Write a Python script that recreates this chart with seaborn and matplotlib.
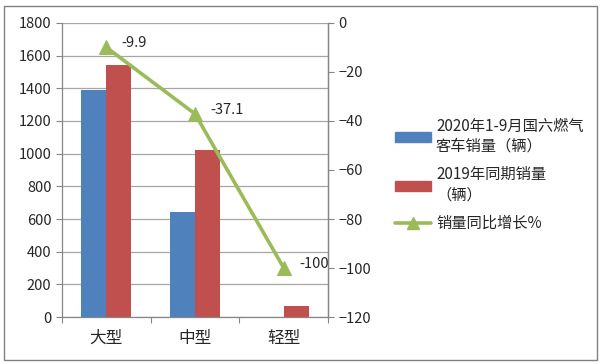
import matplotlib
matplotlib.use("Agg")
import matplotlib.pyplot as plt
from matplotlib.patches import Rectangle
from matplotlib.lines import Line2D
import seaborn as sns
import pandas as pd

categories = ["大型", "中型", "轻型"]
sales_2020 = [1390, 640, 0]
sales_2019 = [1540, 1020, 65]
growth = [-9.9, -37.1, -100]
series_names = ["2020年1-9月国六燃气\n客车销量（辆）", "2019年同期销量\n（辆）"]
line_name = "销量同比增长%"
growth_labels = ["-9.9", "-37.1", "-100"]

sns.set_theme(style="white")
plt.rcParams['font.family'] = ['Noto Sans CJK SC', 'DejaVu Sans']

df = pd.DataFrame({
    "车型": categories * 2,
    "销量": sales_2020 + sales_2019,
    "系列": [series_names[0]] * 3 + [series_names[1]] * 3,
})

fig = plt.figure(figsize=(6, 3.64), dpi=100)
ax = fig.add_axes([0.103, 0.129, 0.444, 0.808])
sns.barplot(data=df, x="车型", y="销量", hue="系列", palette=["#4F81BD", "#C0504D"],
            width=0.56, saturation=1, linewidth=0, ax=ax, legend=False)
ax.set_ylim(0, 1800)
ax.set_yticks(range(0, 1801, 200))
ax.set_xlim(-0.5, 2.5)
ax.set_xlabel("")
ax.set_ylabel("")
ax.yaxis.grid(True, color="#A6A6A6", linewidth=0.9)
ax.set_axisbelow(True)
ax.set_xticks([-0.5, 0.5, 1.5, 2.5], minor=True)
ax.tick_params(axis="x", which="major", length=0, labelsize=12, pad=9)
ax.tick_params(axis="x", which="minor", length=4, color="#868686", width=0.8, direction="out", bottom=True)
ax.tick_params(axis="y", length=4, color="#868686", width=0.8, direction="out", left=True, labelsize=10.5)
ax.spines["top"].set_visible(False)
for s in ["left", "bottom", "right"]:
    ax.spines[s].set_color("#868686")
    ax.spines[s].set_linewidth(0.9)

ax2 = ax.twinx()
sns.lineplot(x=[0, 1, 2], y=growth, color="#9BBB59", linewidth=2.6, marker="^",
             markersize=10, markeredgecolor="#9BBB59", ax=ax2)
ax2.set_ylim(-120, 0)
ax2.set_yticks(range(-120, 1, 20))
ax2.tick_params(axis="y", length=4, color="#868686", width=0.8, direction="out", right=True, labelsize=10.5)
ax2.spines["top"].set_visible(False)
ax2.spines["left"].set_visible(False)
ax2.spines["bottom"].set_visible(False)
ax2.spines["right"].set_color("#868686")
ax2.spines["right"].set_linewidth(0.9)
for i, (v, lab) in enumerate(zip(growth, growth_labels)):
    ax2.annotate(lab, (i, v), xytext=(11, 3), textcoords="offset points",
                 fontsize=10.5, va="center", ha="left")

handles = [
    Rectangle((0, 0), 1, 1, color="#4F81BD"),
    Rectangle((0, 0), 1, 1, color="#C0504D"),
    Line2D([], [], color="#9BBB59", linewidth=2.6, marker="^", markersize=8),
]
leg = fig.legend(handles, series_names + [line_name], loc="center left",
                 bbox_to_anchor=(0.635, 0.52), frameon=False, fontsize=11,
                 handlelength=2.4, handleheight=0.6, handletextpad=0.3, labelspacing=0.75)
for t in leg.get_texts():
    t.set_linespacing(1.25)

fig.patches.append(Rectangle((0.007, 0.012), 0.988, 0.972, transform=fig.transFigure,
                             fill=False, edgecolor="#808080", linewidth=1))
fig.savefig("out.png", dpi=100)
